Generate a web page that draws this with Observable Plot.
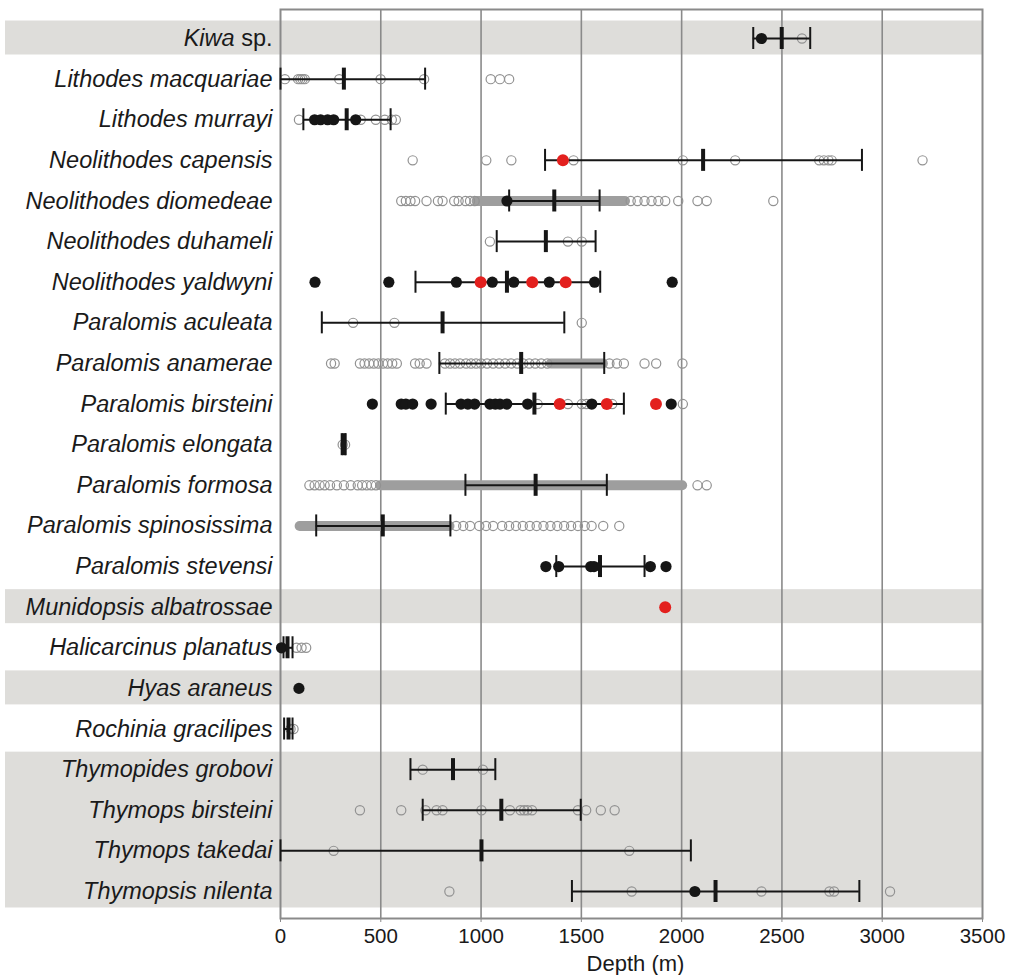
<!DOCTYPE html>
<html><head><meta charset="utf-8">
<script src="https://cdn.jsdelivr.net/npm/d3@7"></script>
<script src="https://cdn.jsdelivr.net/npm/@observablehq/plot@0.6"></script>
<style>body{margin:0;background:#fff;}#chart{width:1009px;height:975px;}</style>
</head><body><div id="chart"></div>
<script>
const species = ["Kiwa sp.","Lithodes macquariae","Lithodes murrayi","Neolithodes capensis","Neolithodes diomedeae","Neolithodes duhameli","Neolithodes yaldwyni","Paralomis aculeata","Paralomis anamerae","Paralomis birsteini","Paralomis elongata","Paralomis formosa","Paralomis spinosissima","Paralomis stevensi","Munidopsis albatrossae","Halicarcinus planatus","Hyas araneus","Rochinia gracilipes","Thymopides grobovi","Thymops birsteini","Thymops takedai","Thymopsis nilenta"];
const minDepth  = [2357, 0, 114, 1319, 1140, 1078, 673, 206, 792, 824, 305, 922, 178, 1375, null, 15, null, 18, 648, 709, 0, 1453];
const meanDepth = [2499, 316, 330, 2107, 1365, 1323, 1129, 808, 1200, 1266, 316, 1272, 510, 1593, null, 35, null, 40, 860, 1101, 1002, 2169];
const maxDepth  = [2641, 721, 549, 2899, 1591, 1571, 1594, 1415, 1614, 1712, 325, 1627, 847, 1815, null, 60, null, 60, 1071, 1497, 2046, 2886];
const xTicks = [0, 500, 1000, 1500, 2000, 2500, 3000, 3500];
const gridTicks = [500, 1000, 1500, 2000, 2500, 3000];
const shadedBlocks = [["Kiwa sp.","Kiwa sp."],["Munidopsis albatrossae","Munidopsis albatrossae"],["Hyas araneus","Hyas araneus"],["Thymopides grobovi","Thymopsis nilenta"]];

// open grey circles (records)
const openRecords = [
  ["Kiwa sp.", [2600]],
  ["Lithodes macquariae", [22, 88, 99, 110, 121, 293, 499, 716, 1048, 1094, 1140]],
  ["Lithodes murrayi", [92, 400, 475, 520, 555, 575]],
  ["Neolithodes capensis", [659, 1026, 1151, 1461, 2006, 2267, 2686, 2709, 2732, 2748, 3201]],
  ["Neolithodes diomedeae", [602, 625, 648, 671, 728, 785, 808, 866, 888, 922, 945, 968, 1746, 1780, 1815, 1850, 1884, 1918, 1983, 2079, 2125, 2457]],
  ["Neolithodes duhameli", [1044, 1433, 1502]],
  ["Paralomis aculeata", [362, 568, 1502]],
  ["Paralomis anamerae", [252, 270, 396, 419, 442, 465, 488, 511, 534, 557, 580, 671, 694, 728, 820, 845, 870, 895, 925, 950, 975, 1000, 1030, 1060, 1090, 1120, 1150, 1180, 1210, 1240, 1270, 1300, 1330, 1640, 1677, 1712, 1815, 1873, 2004]],
  ["Paralomis birsteini", [1282, 1433, 1502, 1525, 1654, 2006]],
  ["Paralomis elongata", [310, 322]],
  ["Paralomis formosa", [144, 170, 195, 220, 247, 281, 316, 350, 385, 407, 430, 453, 476, 2079, 2125]],
  ["Paralomis spinosissima", [876, 911, 945, 991, 1025, 1060, 1105, 1140, 1174, 1208, 1243, 1277, 1311, 1346, 1380, 1414, 1449, 1483, 1517, 1551, 1609, 1689]],
  ["Halicarcinus planatus", [80, 105, 128]],
  ["Rochinia gracilipes", [50, 65]],
  ["Thymopides grobovi", [709, 1009]],
  ["Thymops birsteini", [396, 602, 723, 778, 808, 1002, 1144, 1197, 1215, 1231, 1254, 1483, 1524, 1597, 1666]],
  ["Thymops takedai", [265, 1739]],
  ["Thymopsis nilenta", [842, 1751, 2398, 2737, 2760, 3039]]
];
// dense runs of overlapping open circles (start, end)
const denseRuns = [
  ["Neolithodes diomedeae", 980, 1720],
  ["Paralomis anamerae", 1350, 1610],
  ["Paralomis formosa", 499, 2005],
  ["Paralomis spinosissima", 98, 845]
];
// black filled circles
const blackRecords = [
  ["Kiwa sp.", [2398]],
  ["Lithodes murrayi", [170, 200, 235, 265, 375]],
  ["Neolithodes diomedeae", [1129]],
  ["Neolithodes yaldwyni", [172, 540, 877, 1056, 1163, 1340, 1566, 1953]],
  ["Paralomis birsteini", [458, 602, 625, 659, 751, 900, 934, 968, 1044, 1071, 1094, 1128, 1232, 1552, 1948]],
  ["Paralomis stevensi", [1323, 1387, 1547, 1563, 1844, 1922]],
  ["Halicarcinus planatus", [5]],
  ["Hyas araneus", [92]],
  ["Thymopsis nilenta", [2066]]
];
// red filled circles
const redRecords = [
  ["Neolithodes capensis", [1408]],
  ["Neolithodes yaldwyni", [998, 1255, 1422]],
  ["Paralomis birsteini", [1392, 1627, 1872]],
  ["Munidopsis albatrossae", [1918]]
];

const flat = recs => recs.flatMap(([s, vals]) => vals.map(v => ({species: s, depth: v})));
const openPts = flat(openRecords);
const blackPts = flat(blackRecords);
const redPts = flat(redRecords);
const bands = denseRuns.map(([s, a, b]) => ({species: s, from: a, to: b}));
const ranges = species.map((s, i) => ({species: s, min: minDepth[i], mean: meanDepth[i], max: maxDepth[i]})).filter(d => d.min != null);
const caps = ranges.flatMap(d => [{species: d.species, depth: d.min}, {species: d.species, depth: d.max}]);

function shading(index, scales, values, dims) {
  const y = scales.y;
  const bw = typeof y.bandwidth === "function" ? y.bandwidth() : (y.bandwidth || 0);
  const g = d3.create("svg:g");
  for (const [a, b] of shadedBlocks) {
    const top = y(a) + bw / 2 - 17.5;
    const bottom = y(b) + bw / 2 + 16.5;
    g.append("rect").attr("x", 5).attr("y", top)
      .attr("width", dims.width - dims.marginRight - 5).attr("height", bottom - top)
      .attr("fill", "#deddda");
  }
  return g.node();
}

const black = "#161616", grey = "#929292", red = "#e3201e";
const capInset = 9.3;

const chart = Plot.plot({
  width: 1009, height: 975,
  marginLeft: 280, marginRight: 27, marginTop: 9, marginBottom: 57,
  style: {fontFamily: "'Liberation Sans', Arial, sans-serif", background: "#fff", color: "#1a1a1a"},
  x: {domain: [0, 3500], axis: null},
  y: {type: "band", domain: species, range: [17.7, 911.3], padding: 0, round: false, axis: null},
  marks: [
    shading,
    Plot.ruleX(gridTicks, {stroke: "#8a8a8a", strokeWidth: 1.6}),
    Plot.frame({stroke: "#8a8a8a", strokeWidth: 2}),
    Plot.axisY({tickSize: 0, tickPadding: 8, fontSize: 23.5, fill: "#1a1a1a", label: null}),
    Plot.axisX({ticks: xTicks, tickFormat: d => String(d), tickSize: 4, tickPadding: 6, fontSize: 20.5, stroke: "#8a8a8a", fill: "#1a1a1a", label: null}),
    Plot.text(["Depth (m)"], {frameAnchor: "bottom", lineAnchor: "middle", dx: 4, dy: 45, fontSize: 22, fill: "#1a1a1a"}),
    Plot.ruleY(bands, {y: "species", x1: "from", x2: "to", stroke: "#9e9e9e", strokeWidth: 10, strokeLinecap: "round"}),
    Plot.dot(openPts, {x: "depth", y: "species", r: 4.6, stroke: grey, strokeWidth: 1.2, fill: "none"}),
    Plot.ruleY(ranges, {y: "species", x1: "min", x2: "max", stroke: black, strokeWidth: 2}),
    Plot.tickX(caps, {x: "depth", y: "species", stroke: black, strokeWidth: 2, insetTop: capInset, insetBottom: capInset}),
    Plot.dot(blackPts, {x: "depth", y: "species", r: 5.6, fill: black, stroke: "none"}),
    Plot.dot(redPts, {x: "depth", y: "species", r: 6, fill: red, stroke: "none"}),
    Plot.tickX(ranges, {x: "mean", y: "species", stroke: black, strokeWidth: 4, insetTop: capInset, insetBottom: capInset})
  ]
});

// italic species names; "sp." upright
chart.querySelectorAll('[aria-label="y-axis tick label"] text').forEach(t => {
  t.setAttribute("font-style", "italic");
  const s = t.textContent;
  if (s.endsWith(" sp.")) {
    t.textContent = "";
    const ns = "http://www.w3.org/2000/svg";
    const a = document.createElementNS(ns, "tspan"); a.textContent = s.slice(0, -4);
    const b = document.createElementNS(ns, "tspan"); b.textContent = "\u00a0sp."; b.setAttribute("font-style", "normal");
    t.appendChild(a); t.appendChild(b);
  }
});
document.getElementById("chart").appendChild(chart);
</script>
</body></html>
